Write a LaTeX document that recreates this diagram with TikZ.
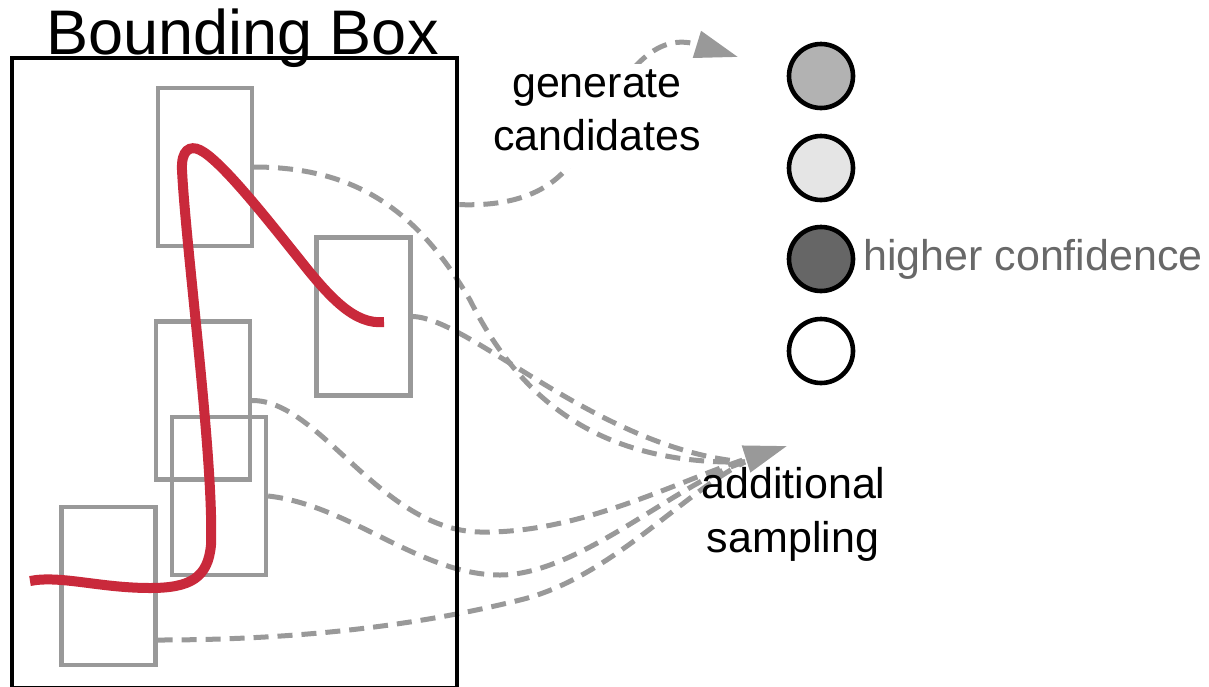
\documentclass[tikz,border=0pt]{standalone}
\usepackage{fontspec}
\setmainfont{Liberation Sans}
\usetikzlibrary{arrows.meta,calc}
\pgfdeclarelayer{back}
\pgfsetlayers{back,main}

\definecolor{boxgray}{RGB}{153,153,153}
\definecolor{curvered}{RGB}{201,41,59}
\definecolor{dotA}{RGB}{178,178,178}
\definecolor{dotB}{RGB}{229,229,229}
\definecolor{dotC}{RGB}{102,102,102}
\definecolor{labelgray}{RGB}{104,104,104}

\begin{document}
\begin{tikzpicture}[x=1pt,y=-1pt,
  every node/.style={inner sep=0pt},
  window/.style={draw=boxgray, line width=4.2pt, minimum width=94pt, minimum height=158pt},
  link/.style={draw=boxgray, line width=5pt, dash pattern=on 15pt off 9pt},
  headed/.style={-{Triangle[length=43pt,width=27pt]}},
  dot/.style={circle, draw=black, line width=4.6pt, minimum size=64pt},
  caption/.style={font=\fontsize{43}{53}\selectfont, anchor=base}]

\useasboundingbox (0,0) rectangle (1209,686);

% outer bounding box and its title
\node[draw, line width=4.8pt, minimum width=445pt, minimum height=630pt] (bbox) at (234.5,373) {};
\node[anchor=base, font=\fontsize{63}{70}\selectfont] (title) at (242.5,54) {Bounding Box};

% candidate windows along the stroke
\node[window] (box1) at (205,167) {};
\node[window] (box2) at (363.5,316.5) {};
\node[window] (box3) at (203,400.5) {};
\node[window] (box4) at (219,496) {};
\node[window] (box5) at (108.5,586) {};

% the traced stroke
\draw[curvered, line width=10pt] (30,581) .. controls (60,575) and (100,588) .. (150,588)
  .. controls (190,588) and (208,578) .. (211,545)
  .. controls (214,460) and (186,250) .. (182,170)
  .. controls (181,150) and (190,145) .. (200,150)
  .. controls (220,160) and (260,210) .. (300,260)
  .. controls (330,298) and (355,325) .. (384,322);

% confidence markers
\node[dot, fill=dotA] (c1) at (821,76) {};
\node[dot, fill=dotB] (c2) at (821,168) {};
\node[dot, fill=dotC] (c3) at (821,259) {};
\node[dot, fill=white] (c4) at (821,351) {};
\node[anchor=base west, text=labelgray, font=\fontsize{43}{53}\selectfont] (conf) at (863,270) {higher confidence};

% arrow end points
\coordinate (sink) at (745,462);
\coordinate (tipA) at (787,446);
\coordinate (tipB) at (738,57);

% labels
\node[caption, fill=white, inner sep=5pt, text depth=14pt] (gen1) at (597,97) {generate};
\node[caption, fill=white, inner sep=5pt, text depth=13pt] (gen2) at (597,150) {candidates};
\node[caption] (add1) at (793.5,498) {additional};
\node[caption] (add2) at (793,552) {sampling};

% dashed connectors
\begin{pgfonlayer}{back}
\draw[link] (box1.east) .. controls (360,167) and (420,215) .. (470,300)
  .. controls (520,400) and (600,465) .. (sink);
\draw[link] (box2.east) .. controls (470,318) and (600,450) .. (sink);
\draw[link] (box4.east) .. controls (350,505) and (420,575) .. (500,575)
  .. controls (580,575) and (680,480) .. (sink);
\draw[link] ($(box5.east)+(0,54)$) .. controls (300,640) and (420,625) .. (520,600)
  .. controls (610,578) and (680,495) .. (sink);
\draw[link, headed] (box3.east) .. controls (320,400) and (380,530) .. (480,532)
  .. controls (580,534) and (680,480) .. (tipA);
\draw[link, headed] ($(bbox.north east)+(0,149)$) .. controls (525,207) and (560,185) .. (580,150)
  .. controls (620,80) and (650,30) .. (tipB);
\end{pgfonlayer}
\end{tikzpicture}
\end{document}
